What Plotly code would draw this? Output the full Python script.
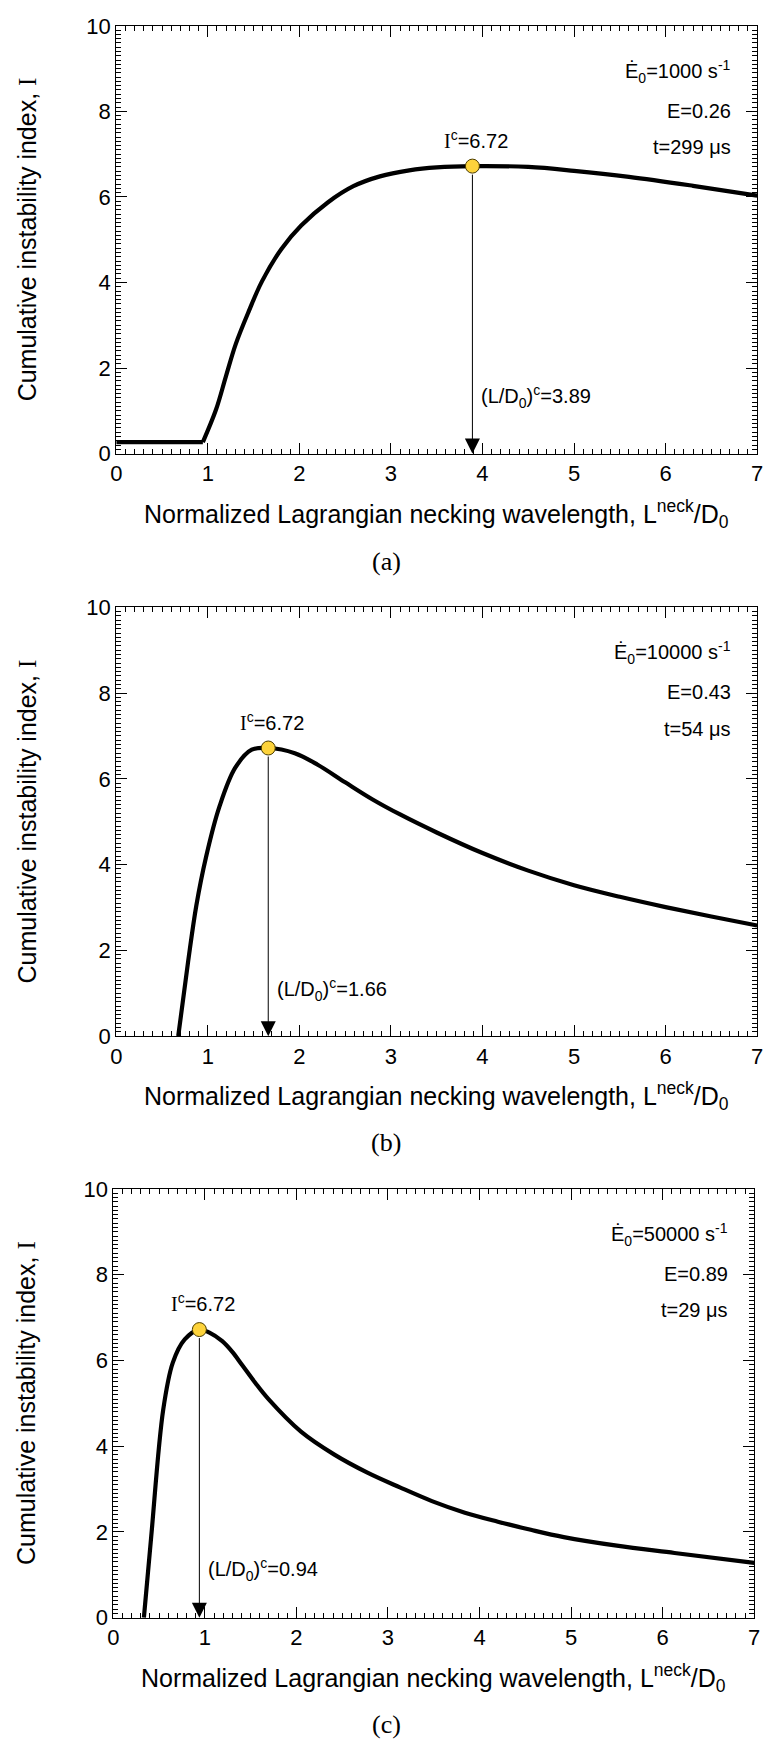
import plotly.graph_objects as go

W, H = 772, 1749

# ---------------- data ----------------
xa = [0, 0.946, 1.09, 1.197, 1.305, 1.448, 1.59, 1.806, 2.02, 2.31, 2.59, 2.88, 3.2, 3.5, 3.89, 4.5, 5.0, 5.6, 6.3, 7.0]
Ia = [0.27, 0.27, 1.03, 1.80, 2.56, 3.33, 4.02, 4.79, 5.33, 5.87, 6.25, 6.48, 6.62, 6.69, 6.72, 6.70, 6.61, 6.47, 6.26, 6.03]

xb = [0.677, 0.785, 0.874, 0.982, 1.125, 1.30, 1.48, 1.66, 1.95, 2.2, 2.5, 2.8, 3.1, 3.5, 4.0, 4.5, 5.0, 5.5, 6.0, 6.5, 7.0]
Ib = [0.0, 1.74, 3.04, 4.19, 5.34, 6.26, 6.68, 6.72, 6.60, 6.33, 5.92, 5.52, 5.17, 4.75, 4.27, 3.86, 3.52, 3.25, 3.01, 2.79, 2.58]

xc = [0.334, 0.414, 0.545, 0.65, 0.78, 0.94, 1.05, 1.19, 1.30, 1.405, 1.55, 1.69, 2.05, 2.41, 2.77, 3.13, 3.48, 3.84, 4.20, 4.56, 4.92, 5.5, 6.13, 7.0]
Ic = [0.0, 1.89, 4.85, 5.95, 6.49, 6.72, 6.65, 6.45, 6.20, 5.90, 5.48, 5.11, 4.34, 3.81, 3.39, 3.04, 2.72, 2.45, 2.24, 2.05, 1.88, 1.68, 1.51, 1.28]

curves_x = [xa, xb, xc]
curves_I = [Ia, Ib, Ic]
flat_end = [2, 0, 0]   # number of leading points forming a straight (unsmoothed) segment

crit_L = [3.89, 1.66, 0.94]
crit_I = [6.72, 6.72, 6.72]
rates = ["1000", "10000", "50000"]
E_vals = ["0.26", "0.43", "0.89"]
t_vals = ["299", "54", "29"]
panel_labels = ["(a)", "(b)", "(c)"]

# ---------------- layout helpers ----------------
boxes = [(112, 763, 14, 448), (112, 763, 604, 1039), (109, 760, 1194, 1629)]
label_y = [1.34, 1.09, 1.13]
caption_y = [557, 1147, 1737]


def pxx(x):
    return x / W


def pxy(y):
    return 1 - y / H


SANS = "Liberation Sans, Arial, sans-serif"
SERIF = "Liberation Serif, Times New Roman, serif"

fig = go.Figure()
layout = dict(
    width=W, height=H,
    margin=dict(l=0, r=0, t=0, b=0),
    paper_bgcolor="white", plot_bgcolor="white",
    showlegend=False,
)

annotations = []

for i in range(3):
    n = "" if i == 0 else str(i + 1)
    xa_name, ya_name = "x" + n, "y" + n
    l, r, t, b = boxes[i]

    layout["xaxis" + n] = dict(
        showline=True, linecolor="black", mirror="ticks",
        ticks="inside", ticklen=11, tickcolor="black",
        showgrid=False, zeroline=False, dtick=1, tick0=0,
        minor=dict(ticks="inside", ticklen=5, dtick=0.1, tickcolor="black"),
        tickfont=dict(family=SANS, size=22, color="black"),
        domain=[pxx(l), pxx(r)], range=[0, 7], anchor=ya_name,
    )
    layout["yaxis" + n] = dict(
        showline=True, linecolor="black", mirror="ticks",
        ticks="inside", ticklen=11, tickcolor="black",
        showgrid=False, zeroline=False, dtick=2, tick0=0,
        minor=dict(ticks="inside", ticklen=5, dtick=0.1, tickcolor="black"),
        tickfont=dict(family=SANS, size=22, color="black"),
        domain=[pxy(b), pxy(t)], range=[0, 10], anchor=xa_name,
    )

    k = flat_end[i]
    if k:
        fig.add_trace(go.Scatter(
            x=curves_x[i][:k], y=curves_I[i][:k], mode="lines",
            line=dict(color="black", width=4.2),
            xaxis=xa_name, yaxis=ya_name, hoverinfo="skip",
        ))
    fig.add_trace(go.Scatter(
        x=curves_x[i][max(k - 1, 0):], y=curves_I[i][max(k - 1, 0):], mode="lines",
        line=dict(color="black", width=4.2, shape="spline", smoothing=1.0),
        xaxis=xa_name, yaxis=ya_name, hoverinfo="skip",
    ))

    annotations.append(dict(
        xref=xa_name, yref=ya_name, axref=xa_name, ayref=ya_name,
        x=crit_L[i], y=0, ax=crit_L[i], ay=crit_I[i], text="",
        showarrow=True, arrowhead=2, arrowsize=3, arrowwidth=1,
        arrowcolor="black", startstandoff=7, standoff=0,
    ))

    fig.add_trace(go.Scatter(
        x=[crit_L[i]], y=[crit_I[i]], mode="markers",
        marker=dict(size=14, color="#FDD33B", line=dict(color="#4a3c00", width=1)),
        xaxis=xa_name, yaxis=ya_name, hoverinfo="skip",
    ))

    annotations.append(dict(
        xref=xa_name, yref=ya_name, x=crit_L[i], y=crit_I[i],
        text="<span style=\"font-family:'Liberation Serif'\">I</span><sup>c</sup>=" + f"{crit_I[i]:.2f}",
        showarrow=False, xanchor="center", yanchor="middle", xshift=4, yshift=27,
        font=dict(family=SANS, size=20, color="black"),
    ))

    annotations.append(dict(
        xref=xa_name, yref=ya_name, x=crit_L[i], y=label_y[i],
        text="(L/D<sub>0</sub>)<sup>c</sup>=" + f"{crit_L[i]:.2f}",
        showarrow=False, xanchor="left", yanchor="middle", xshift=7,
        font=dict(family=SANS, size=20, color="black"),
    ))

    right_texts = [
        "Ė<sub>0</sub>=" + rates[i] + " s<sup>-1</sup>",
        "E=" + E_vals[i],
        "t=" + t_vals[i] + " μs",
    ]
    right_y = [0.894, 0.802, 0.717]
    for txt, yy in zip(right_texts, right_y):
        annotations.append(dict(
            xref=xa_name + " domain", yref=ya_name + " domain", x=0.962, y=yy,
            text=txt, showarrow=False, xanchor="right", yanchor="middle",
            font=dict(family=SANS, size=20, color="black"),
        ))

    annotations.append(dict(
        xref="paper", yref="paper", x=pxx((l + r) / 2), y=pxy(b + 61),
        text="Normalized Lagrangian necking wavelength, L<sup>neck</sup>/D<sub>0</sub>",
        showarrow=False, xanchor="center", yanchor="middle",
        font=dict(family=SANS, size=25, color="black"),
    ))
    annotations.append(dict(
        xref="paper", yref="paper", x=pxx(21), y=pxy((t + b) / 2),
        text="Cumulative instability index, <span style=\"font-family:'Liberation Serif'\">I</span>",
        showarrow=False, xanchor="center", yanchor="middle", textangle=-90,
        font=dict(family=SANS, size=25, color="black"),
    ))
    annotations.append(dict(
        xref="paper", yref="paper", x=0.5, y=pxy(caption_y[i]),
        text=panel_labels[i], showarrow=False, xanchor="center", yanchor="middle",
        font=dict(family=SERIF, size=26, color="black"),
    ))

layout["annotations"] = annotations
fig.update_layout(**layout)
fig.write_html("out.html")
